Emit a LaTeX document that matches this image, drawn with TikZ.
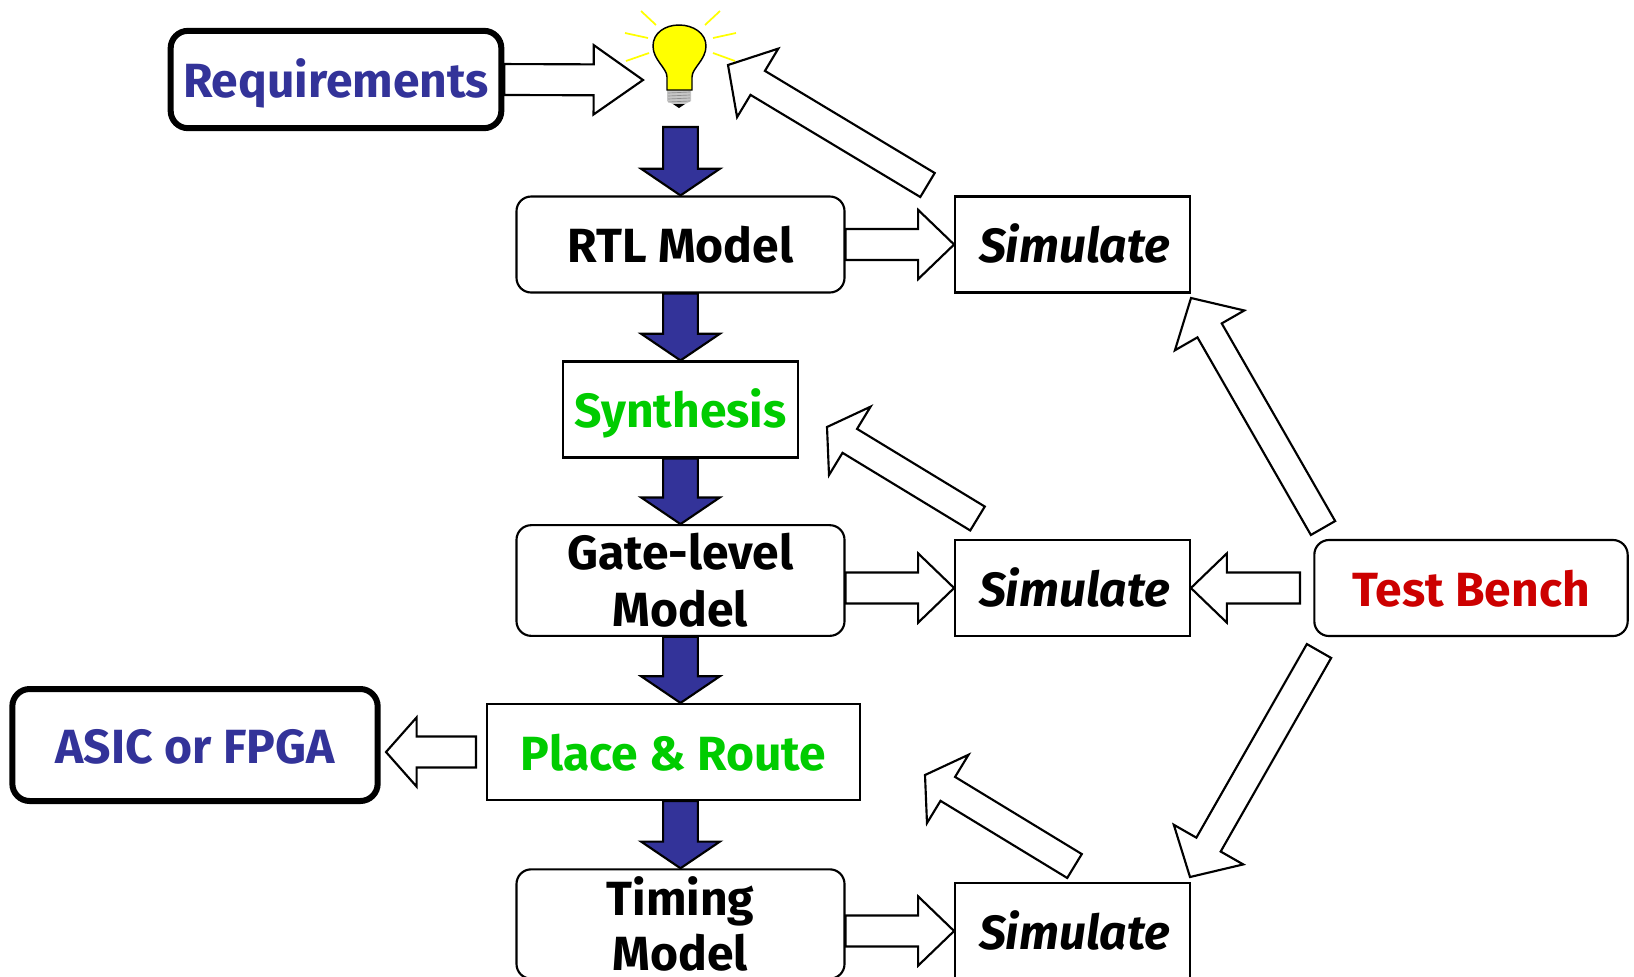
\documentclass[tikz,border=0pt]{standalone}
\usepackage{fontspec}
\setmainfont{Fira Sans}
\usetikzlibrary{calc}
\definecolor{flowblue}{RGB}{51,51,153}
\definecolor{flowgreen}{RGB}{0,204,0}
\definecolor{flowred}{RGB}{204,0,0}
\definecolor{bulbyellow}{RGB}{255,255,0}
\newcommand{\spaced}[2]{{\addfontfeatures{LetterSpace=#1}#2}}

\tikzset{
  blockarrow/.style n args={3}{line width=1.6pt,miter limit=10,to path={
    -- ($(\tikztostart)!#1!90:(\tikztotarget)$)
    -- ($($(\tikztotarget)!#3!(\tikztostart)$)!#1!90:(\tikztotarget)$)
    -- ($($(\tikztotarget)!#3!(\tikztostart)$)!#2!90:(\tikztotarget)$)
    -- (\tikztotarget)
    -- ($($(\tikztotarget)!#3!(\tikztostart)$)!#2!-90:(\tikztotarget)$)
    -- ($($(\tikztotarget)!#3!(\tikztostart)$)!#1!-90:(\tikztotarget)$)
    -- ($(\tikztostart)!#1!-90:(\tikztotarget)$)
    -- cycle}},
  bluearrow/.style={blockarrow={13pt}{29.5pt}{20pt},fill=flowblue},
  whitearrow/.style={blockarrow={11.6pt}{26pt}{#1},fill=white},
  whitearrow/.default=27pt,
  slantarrow/.style={blockarrow={10.5pt}{30pt}{#1},fill=white},
  slantarrow/.default=20pt,
  boxtext/.style={font=\fontsize{36}{43}\selectfont\bfseries,align=center,inner sep=0pt},
  oneline/.style={text height=27pt,text depth=0pt},
  modelbox/.style={boxtext,draw,line width=1.6pt,rounded corners=11pt,minimum width=246pt},
  simbox/.style={boxtext,oneline,draw,line width=1.6pt,minimum width=176pt,minimum height=72pt},
  stepbox/.style={boxtext,oneline,draw,line width=1.6pt,text=flowgreen,minimum height=72pt},
  goalbox/.style={boxtext,oneline,draw,line width=4.5pt,rounded corners=13pt,text=flowblue},
  ray/.style={color=bulbyellow,line width=1.3pt}
}

\begin{document}
\begin{tikzpicture}[x=0.75pt,y=0.75pt,yscale=-1,xscale=1]
\useasboundingbox (0,0) rectangle (1634,976);

% boxes
\node[goalbox,minimum width=248pt,minimum height=73pt] (req) at (336,79.5) {Requirements};
\node[modelbox,oneline,minimum height=72pt] (rtl) at (680.5,244.5) {\spaced{0.04}{RTL Model}};
\node[stepbox,minimum width=176pt] (syn) at (680.5,409.5) {\spaced{0.03}{Synthesis}};
\node[modelbox,minimum height=83pt] (gate) at (680.5,580.5) {\spaced{0.03}{Gate-level}\\\spaced{0.01}{Model}};
\node[stepbox,minimum width=280pt] (par) at (673.5,752) {\spaced{0.03}{Place \& Route}};
\node[goalbox,minimum width=274pt,minimum height=84pt] (chip) at (195,745) {\spaced{0.1}{ASIC or FPGA}};
\node[modelbox,minimum height=82pt] (timing) at (680.5,924) {Timing\\[-2pt]Model};
\node[simbox] (simrtl) at (1072.5,244.5) {\hspace{3pt}\spaced{0.05}{\itshape Simulate}};
\node[simbox] (simgate) at (1072.5,588) {\hspace{3pt}\spaced{0.05}{\itshape Simulate}};
\node[simbox] (simtime) at (1072.5,931) {\hspace{3pt}\spaced{0.05}{\itshape Simulate}};
\node[boxtext,oneline,draw,line width=1.6pt,rounded corners=11pt,text=flowred,minimum width=235pt,minimum height=72pt] (bench) at (1471,588) {\spaced{0.1}{Test Bench}};

% bulb
\draw[ray] (641,11) -- (656,25);
\draw[ray] (720,11) -- (705,25);
\draw[ray] (625,33) -- (648,38);
\draw[ray] (736,33) -- (713,38);
\draw[ray] (626,61) -- (649,53);
\draw[ray] (735,61) -- (713,53);
\fill[gray!45] (667,90) -- (691,90) -- (691,101) -- (685,104) -- (673,104) -- (667,101) -- cycle;
\foreach \y in {93,96,99,102}
  \draw[gray!90,line width=0.5pt] (668,\y) -- (690,\y-1);
\fill (673,104) -- (685,104) -- (679,108) -- cycle;
\draw[fill=bulbyellow,line width=1.1pt] (667,90) -- (667,77) .. controls (667,68) and (653,60) .. (653,46)
  .. controls (653,33) and (665,25) .. (679,25) .. controls (693,25) and (706,33) .. (706,46)
  .. controls (706,60) and (692,68) .. (692,77) -- (692,90) -- cycle;

\coordinate (bulbin) at (643,80);
\coordinate (bulbout) at (680.5,127);
\coordinate (bulbback) at (728,65);
\coordinate (backsim) at (927.5,185);
\coordinate (synback) at (827,427);
\coordinate (simback) at (977.5,518.5);
\coordinate (parback) at (925,775);
\coordinate (timeback) at (1074.5,866);
\coordinate (benchup) at (1323,528);
\coordinate (benchdown) at (1319,651);
\coordinate (simup) at (1191,298);
\coordinate (simdown) at (1190,877);
\coordinate (benchleft) at (1300,588);
\coordinate (parleft) at (476,752);
\coordinate (chipin) at (386,752);

% flow arrows
\draw[bluearrow] (bulbout) to (rtl.north);
\draw[bluearrow] (rtl.south) to (syn.north);
\draw[bluearrow] (syn.south) to (gate.north);
\draw[bluearrow] (gate.south) to ($(par.north)+(7,0)$);
\draw[bluearrow] ($(par.south)+(7,0)$) to (timing.north);

% test arrows
\draw[whitearrow=37pt] (req.east) to (bulbin);
\draw[whitearrow] (rtl.east) to (simrtl.west);
\draw[whitearrow] (gate.east |- simgate) to (simgate.west);
\draw[whitearrow] (timing.east |- simtime) to (simtime.west);
\draw[whitearrow] (benchleft) to (simgate.east);
\draw[whitearrow=23pt] (parleft) to (chipin);
\draw[slantarrow=26pt] (backsim) to (bulbback);
\draw[slantarrow] (simback) to (synback);
\draw[slantarrow] (timeback) to (parback);
\draw[slantarrow=28pt] (benchup) to (simup);
\draw[slantarrow=28pt] (benchdown) to (simdown);
\end{tikzpicture}
\end{document}
